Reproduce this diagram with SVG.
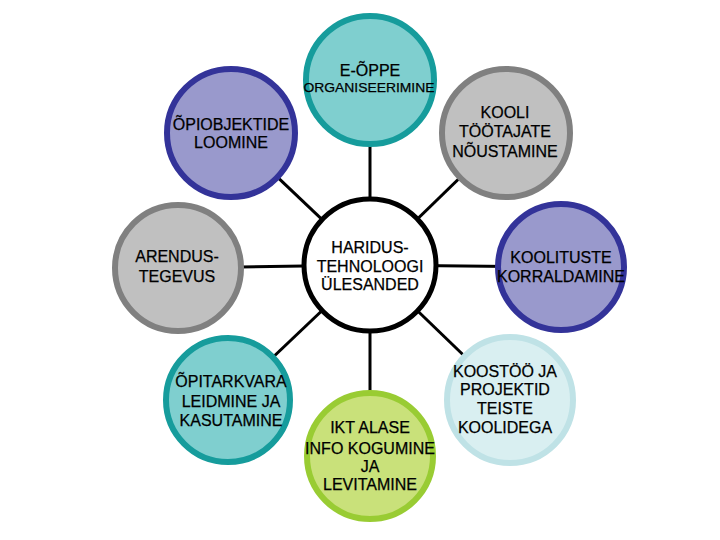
<svg xmlns="http://www.w3.org/2000/svg" width="720" height="540" viewBox="0 0 720 540">
<style>
text{font-family:"Liberation Sans",Arial,sans-serif;font-size:16px;fill:#000;stroke:#000;stroke-width:0.25;text-anchor:middle}
.c{stroke-width:6}
.teal{fill:#7fcfcf;stroke:#169c9c}
.blue{fill:#9999cc;stroke:#333399}
.grey{fill:#c0c0c0;stroke:#808080}
.green{fill:#c9e17a;stroke:#99cc33}
.pale{fill:#d9eff1;stroke:#bfe2e6}
.center{fill:#fff;stroke:#000;stroke-width:5}
</style>
<rect width="720" height="540" fill="#fff"/>
<g id="connectors" stroke="#000" stroke-width="3">
<line x1="370" y1="265" x2="370" y2="80"/>
<line x1="370" y1="265" x2="231" y2="133"/>
<line x1="370" y1="265" x2="506" y2="133"/>
<line x1="370" y1="265" x2="178" y2="268"/>
<line x1="370" y1="265" x2="561" y2="267"/>
<line x1="370" y1="265" x2="228" y2="400"/>
<line x1="370" y1="265" x2="370" y2="456"/>
<line x1="370" y1="265" x2="510" y2="400"/>
</g>
<g id="n-eoppe">
<circle class="c teal" cx="370" cy="80" r="64"/>
<text x="370" y="76">E-ÕPPE</text>
<text x="369" y="92" style="font-size:13.5px" textLength="131" lengthAdjust="spacingAndGlyphs">ORGANISEERIMINE</text>
</g>
<g id="n-opiobjektide">
<circle class="c blue" cx="231" cy="133" r="64"/>
<text x="231" y="130">ÕPIOBJEKTIDE</text>
<text x="231" y="148">LOOMINE</text>
</g>
<g id="n-kooli">
<circle class="c grey" cx="506" cy="133" r="64"/>
<text x="505" y="118">KOOLI</text>
<text x="505" y="137">TÖÖTAJATE</text>
<text x="505" y="157">NÕUSTAMINE</text>
</g>
<g id="n-arendus">
<circle class="c grey" cx="178" cy="268" r="63"/>
<text x="177" y="262">ARENDUS-</text>
<text x="177" y="282">TEGEVUS</text>
</g>
<g id="n-center">
<circle class="center" cx="370" cy="265" r="66"/>
<text x="370" y="253">HARIDUS-</text>
<text x="370" y="272">TEHNOLOOGI</text>
<text x="370" y="290">ÜLESANDED</text>
</g>
<g id="n-koolituste">
<circle class="c blue" cx="561" cy="267" r="63"/>
<text x="561" y="263">KOOLITUSTE</text>
<text x="561" y="282">KORRALDAMINE</text>
</g>
<g id="n-opitarkvara">
<circle class="c teal" cx="228" cy="400" r="62"/>
<text x="231" y="387">ÕPITARKVARA</text>
<text x="231" y="407">LEIDMINE JA</text>
<text x="231" y="426">KASUTAMINE</text>
</g>
<g id="n-ikt">
<circle class="c green" cx="370" cy="456" r="63"/>
<text x="370" y="433">IKT ALASE</text>
<text x="370" y="454">INFO KOGUMINE</text>
<text x="370" y="472">JA</text>
<text x="370" y="490">LEVITAMINE</text>
</g>
<g id="n-koostoo">
<circle class="c pale" cx="510" cy="400" r="63"/>
<text x="505" y="377">KOOSTÖÖ JA</text>
<text x="505" y="395">PROJEKTID</text>
<text x="505" y="414">TEISTE</text>
<text x="505" y="433">KOOLIDEGA</text>
</g>
</svg>
